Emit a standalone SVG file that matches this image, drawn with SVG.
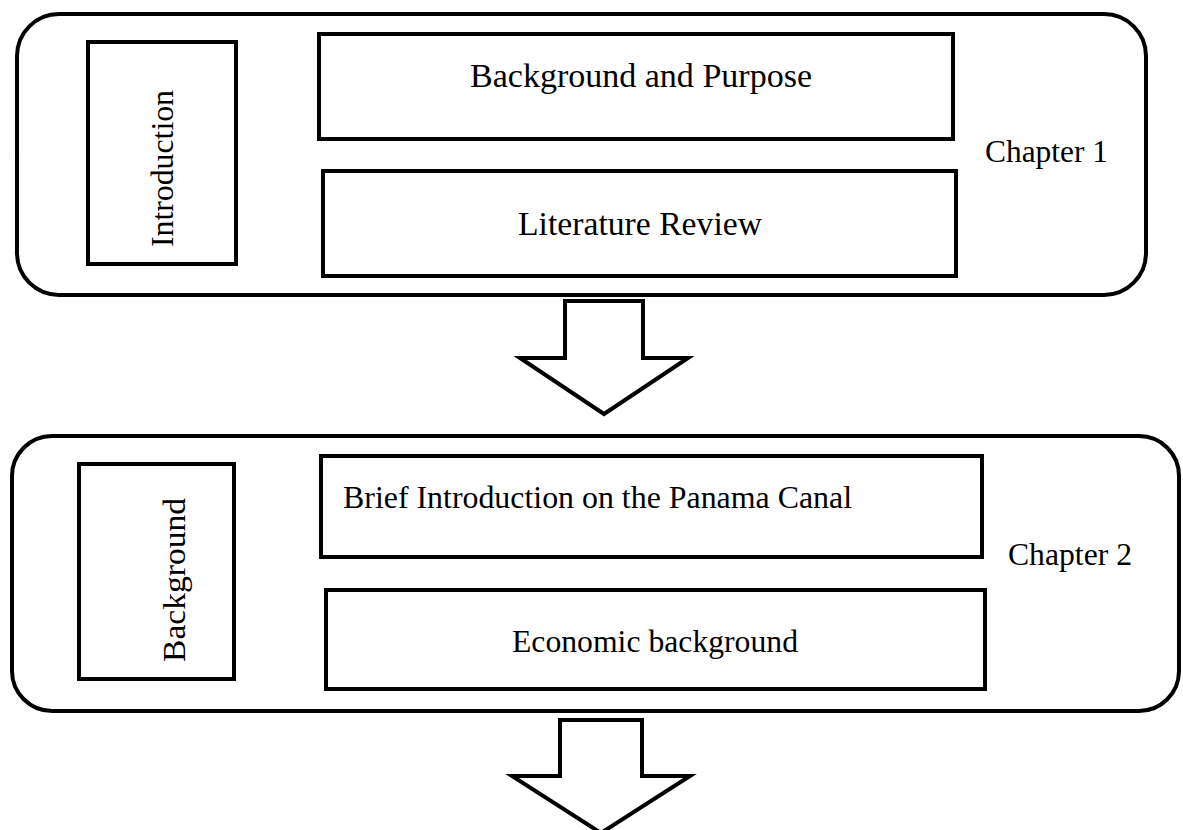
<svg xmlns="http://www.w3.org/2000/svg" width="1183" height="830" viewBox="0 0 1183 830">
<style>
.frame{fill:#fff;stroke:#000;stroke-width:4}
.box{fill:#fff;stroke:#000;stroke-width:4;stroke-linejoin:miter}
.arrow{fill:#fff;stroke:#000;stroke-width:4;stroke-linejoin:miter}
.t{font-family:"Liberation Serif","Times New Roman",serif;font-size:32px;fill:#000}
.c{font-family:"Liberation Serif","Times New Roman",serif;font-size:33px;fill:#000}
</style>
<rect width="1183" height="830" fill="#fff"/>
<g id="chapter1">
<rect class="frame" x="17" y="14" width="1129" height="281" rx="42" ry="42"/>
<text class="t" x="985" y="162" textLength="123" lengthAdjust="spacingAndGlyphs">Chapter 1</text>
</g>
<g id="introduction">
<rect class="box" x="88" y="42" width="148" height="222"/>
<text class="t" transform="translate(173,247) rotate(-90)" textLength="157" lengthAdjust="spacingAndGlyphs">Introduction</text>
</g>
<g id="background-purpose">
<rect class="box" x="319" y="34" width="634" height="105"/>
<text class="c" x="470" y="87" textLength="342" lengthAdjust="spacingAndGlyphs">Background and Purpose</text>
</g>
<g id="literature-review">
<rect class="box" x="323" y="171" width="633" height="105"/>
<text class="c" x="518" y="235" textLength="244" lengthAdjust="spacingAndGlyphs">Literature Review</text>
</g>
<g id="chapter2">
<rect class="frame" x="12" y="436" width="1167" height="275" rx="40" ry="40"/>
<text class="t" x="1008" y="565" textLength="124" lengthAdjust="spacingAndGlyphs">Chapter 2</text>
</g>
<g id="background">
<rect class="box" x="79" y="464" width="155" height="215"/>
<text class="t" transform="translate(185,662) rotate(-90)" textLength="164" lengthAdjust="spacingAndGlyphs">Background</text>
</g>
<g id="brief-introduction">
<rect class="box" x="321" y="456" width="661" height="101"/>
<text class="t" x="343" y="508" textLength="509" lengthAdjust="spacingAndGlyphs">Brief Introduction on the Panama Canal</text>
</g>
<g id="economic-background">
<rect class="box" x="326" y="590" width="659" height="99"/>
<text class="t" x="512" y="652" textLength="286" lengthAdjust="spacingAndGlyphs">Economic background</text>
</g>
<g id="connectors">
<polygon class="arrow" points="565,301 643,301 643,358 688,358 604,414 520,358 565,358"/>
<polygon class="arrow" points="560,720 642,720 642,776 690,776 601,833 512,776 560,776"/>
</g>
</svg>
